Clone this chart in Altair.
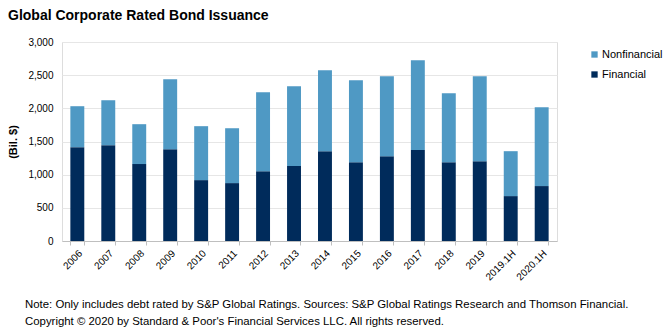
import altair as alt
import pandas as pd

years = ["2006", "2007", "2008", "2009", "2010", "2011", "2012", "2013",
         "2014", "2015", "2016", "2017", "2018", "2019", "2019.1H", "2020.1H"]
financial = [1415, 1445, 1160, 1385, 918, 873, 1053, 1129,
             1354, 1189, 1279, 1370, 1189, 1204, 677, 828]
totals = [2032, 2122, 1761, 2438, 1731, 1700, 2242, 2333,
          2574, 2423, 2483, 2724, 2227, 2483, 1354, 2017]
nonfinancial = [t - f for t, f in zip(totals, financial)]

series = ["Nonfinancial", "Financial"]
colors = ["#4F99C4", "#002B5B"]

title_text = "Global Corporate Rated Bond Issuance"
y_title = "(Bil. $)"
notes = [
    "Note: Only includes debt rated by S&P Global Ratings. Sources: S&P Global Ratings Research and Thomson Financial.",
    "Copyright \u00a9 2020 by Standard & Poor's Financial Services LLC. All rights reserved.",
]

rows = []
for i, yr in enumerate(years):
    rows.append({"year": yr, "series": "Financial", "value": financial[i], "ord": 0})
    rows.append({"year": yr, "series": "Nonfinancial", "value": nonfinancial[i], "ord": 1})
df = pd.DataFrame(rows)

FONT = "Liberation Sans"

bars = alt.Chart(df).mark_bar().encode(
    x=alt.X("year:N", sort=years,
            scale=alt.Scale(paddingInner=0.55, paddingOuter=0.27),
            axis=alt.Axis(title=None, labelAngle=-45, labelAlign="right",
                          labelBaseline="top", labelFontSize=10,
                          labelPadding=3, tickSize=4, bandPosition=1,
                          tickExtra=True, grid=False,
                          domainColor="#BFBFBF", tickColor="#BFBFBF",
                          labelColor="#000000", labelFont=FONT)),
    y=alt.Y("value:Q", stack="zero",
            scale=alt.Scale(domain=[0, 3000], nice=False),
            axis=alt.Axis(title=y_title, values=[0, 500, 1000, 1500, 2000, 2500, 3000],
                          format=",.0f", ticks=False, domain=False,
                          labelFontSize=10, labelPadding=9, labelColor="#000000",
                          labelFont=FONT, titleFont=FONT, titleFontSize=11,
                          titleFontWeight="bold", titleColor="#000000",
                          titlePadding=9, gridColor="#E6E6E6")),
    color=alt.Color("series:N",
                    scale=alt.Scale(domain=series, range=colors),
                    legend=alt.Legend(title=None, orient="none", legendX=527,
                                      legendY=7, symbolType="square",
                                      symbolSize=40, symbolStrokeWidth=0,
                                      labelFontSize=11, labelFont=FONT,
                                      labelColor="#000000", rowPadding=8,
                                      labelOffset=2)),
    order=alt.Order("ord:Q", sort="ascending"),
)

note1 = alt.Chart(pd.DataFrame({"t": [notes[0]]})).mark_text(
    align="left", baseline="alphabetic", font=FONT, fontSize=11.4, color="#000000"
).encode(text="t:N", x=alt.value(-37), y=alt.value(266))

note2 = alt.Chart(pd.DataFrame({"t": [notes[1]]})).mark_text(
    align="left", baseline="alphabetic", font=FONT, fontSize=11.4, color="#000000"
).encode(text="t:N", x=alt.value(-37), y=alt.value(283))

chart = alt.layer(bars, note1, note2).properties(
    width=495, height=199,
    title=alt.TitleParams(title_text, anchor="start", frame="group", dx=-54,
                          font=FONT, fontSize=14, fontWeight="bold",
                          color="#000000", offset=14),
    autosize=alt.AutoSizeParams(type="none"),
    padding={"left": 62, "top": 42, "right": 109, "bottom": 86},
).configure_view(stroke=None).configure(background="#FFFFFF")

chart.save("out.html", embed_options={"renderer": "svg", "actions": False})
